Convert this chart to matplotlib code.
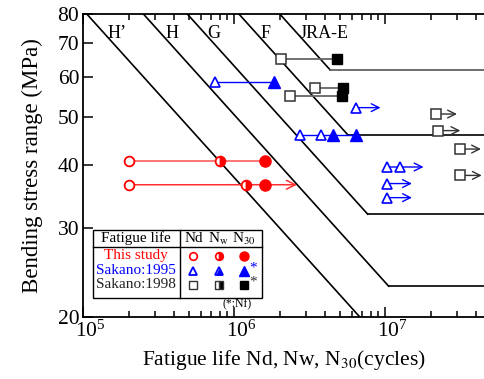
import numpy as np
import matplotlib
matplotlib.use("Agg")
import matplotlib.pyplot as plt
import matplotlib.transforms as mtransforms
from matplotlib.patches import Rectangle

plt.rcParams['font.family'] = ['Liberation Serif', 'DejaVu Serif']
plt.rcParams['mathtext.fontset'] = 'stix'

# JSSC fatigue design classes: stress range at 2e6 cycles and cut-off limit (MPa)
class_names = ["H\u2019", "H", "G", "F", "JRA-E"]
class_ref_stress = [30, 40, 50, 65, 80]
class_cutoff = [16, 23, 32, 46, 62]
class_label_x = [1.67e5, 3.85e5, 7.3e5, 1.6e6, 3.95e6]

# This study (red): Nd, Nw, N30 per stress level
study_stress = [40.8, 36.6]
study_nd = [2.0e5, 2.0e5]
study_nw = [8.0e5, 1.2e6]
study_n30 = [1.59e6, 1.59e6]
study_arrow_end = [None, 2.6e6]

# Sakano:1995 (blue triangles)
s95_line_stress = [58.6, 46.0]
s95_line_start = [7.4e5, 2.74e6]
s95_line_end = [1.82e6, 6.4e6]
s95_open_n = [7.4e5, 2.74e6, 3.75e6]
s95_open_s = [58.6, 46.0, 46.0]
s95_filled_n = [1.82e6, 4.48e6, 6.4e6]
s95_filled_s = [58.6, 46.0, 46.0]
s95_runout_n = [6.4e6, 1.03e7, 1.26e7, 1.03e7, 1.03e7]
s95_runout_s = [52.1, 39.7, 39.7, 36.8, 34.5]
s95_arrow_from = [6.4e6, 1.03e7, 1.03e7, 1.03e7]
s95_arrow_to = [9.3e6, 1.79e7, 1.5e7, 1.5e7]
s95_arrow_s = [52.1, 39.7, 36.8, 34.5]

# Sakano:1998 (black squares)
s98_open_n = [2.04e6, 3.4e6, 2.32e6]
s98_filled_n = [4.75e6, 5.25e6, 5.15e6]
s98_stress = [65.1, 56.9, 54.9]
s98_runout_n = [2.17e7, 2.22e7, 3.1e7, 3.14e7]
s98_runout_s = [50.6, 46.9, 43.1, 38.2]
s98_arrow_to = [2.98e7, 3.14e7, 4.3e7, 4.35e7]

fig = plt.figure(figsize=(4.85, 3.79), dpi=100)
ax = fig.add_axes([83.3 / 485, 1 - 316.7 / 379, 1 - 83.3 / 485, (316.7 - 14) / 379])
ax.set_xscale('log')
ax.set_yscale('log')
xmin, xmax = 1e5, 10 ** 7.66
ax.set_xlim(xmin, xmax)
ax.set_ylim(20, 80)

# S-N design lines
for name, sref, cut, lx in zip(class_names, class_ref_stress, class_cutoff, class_label_x):
    n_top = 2e6 * (sref / 80) ** 3
    n_knee = 2e6 * (sref / cut) ** 3
    s_end = max(cut, 20)
    n_end = 2e6 * (sref / s_end) ** 3
    ax.plot([n_top, n_end], [80, s_end], color='black', lw=1.2, zorder=2)
    if cut >= 20:
        flat_color = '#555555' if name == 'JRA-E' else 'black'
        ax.plot([n_knee, xmax], [cut, cut], color=flat_color, lw=1.2, zorder=2)
    ax.text(lx, 73.3, name, fontsize=13, ha='center', va='center')

# This study
red = '#ff0000'
for s, nd, nw, n30, ae in zip(study_stress, study_nd, study_nw, study_n30, study_arrow_end):
    if ae is None:
        ax.plot([nd, n30], [s, s], color='#ff5050', lw=1.1, zorder=3)
    else:
        ax.annotate('', xy=(ae, s), xytext=(nd, s),
                    arrowprops=dict(arrowstyle='->', color='#ff3030', lw=1.1, mutation_scale=16,
                                    shrinkA=0, shrinkB=0), zorder=3)
    ax.plot(nd, s, 'o', ms=7, mfc='white', mec=red, mew=1.3, zorder=4)
    ax.plot(nw, s, 'o', ms=7, mfc=red, mfcalt='white', fillstyle='right', mec=red, mew=1.3, zorder=4)
    ax.plot(n30, s, 'o', ms=8, mfc=red, mec=red, zorder=4)

# Sakano:1995
blue = '#0000ff'
for s, a, b in zip(s95_line_stress, s95_line_start, s95_line_end):
    ax.plot([a, b], [s, s], color=blue, lw=1.0, zorder=3)
for a, b, s in zip(s95_arrow_from, s95_arrow_to, s95_arrow_s):
    ax.annotate('', xy=(b, s), xytext=(a, s),
                arrowprops=dict(arrowstyle='->', color=blue, lw=1.0, mutation_scale=14,
                                shrinkA=0, shrinkB=0), zorder=3)
ax.plot(s95_open_n, s95_open_s, '^', ls='none', ms=7, mfc='white', mec=blue, mew=1.2, zorder=4)
ax.plot(s95_runout_n, s95_runout_s, '^', ls='none', ms=7, mfc='white', mec=blue, mew=1.2, zorder=4)
ax.plot(s95_filled_n, s95_filled_s, '^', ls='none', ms=8, mfc=blue, mec=blue, zorder=4)

# Sakano:1998
for a, b, s in zip(s98_open_n, s98_filled_n, s98_stress):
    ax.plot([a, b], [s, s], color='#666666', lw=1.3, zorder=3)
for a, b, s in zip(s98_runout_n, s98_arrow_to, s98_runout_s):
    ax.annotate('', xy=(b, s), xytext=(a, s),
                arrowprops=dict(arrowstyle='->', color='#333333', lw=1.0, mutation_scale=14,
                                shrinkA=0, shrinkB=0), zorder=3)
ax.plot(s98_open_n, s98_stress, 's', ls='none', ms=7, mfc='white', mec='#333333', mew=1.1, zorder=4)
ax.plot(s98_runout_n, s98_runout_s, 's', ls='none', ms=7, mfc='white', mec='#333333', mew=1.1, zorder=4)
ax.plot(s98_filled_n, s98_stress, 's', ls='none', ms=7.5, mfc='black', mec='black', zorder=4)

# Axes styling
ax.set_yticks([20, 30, 40, 50, 60, 70, 80])
ax.set_yticklabels(['20', '30', '40', '50', '60', '70', '80'])
ax.yaxis.set_minor_locator(matplotlib.ticker.NullLocator())
ax.tick_params(which='both', direction='in', top=True, right=False, labelsize=15.5, width=1.1)
ax.tick_params(which='major', length=7)
ax.tick_params(which='minor', length=4)
ax.tick_params(axis='y', pad=3)
ax.tick_params(axis='x', pad=3)
ax.spines['right'].set_visible(False)
for sp in ['left', 'bottom', 'top']:
    ax.spines[sp].set_linewidth(1.3)
ax.set_xlabel(r'Fatigue life Nd, Nw, N$_{30}$(cycles)', fontsize=15.5, labelpad=4)
ax.set_ylabel('Bending stress range (MPa)', fontsize=16.5, labelpad=10)

# nudge x tick labels to the right, as in the original
shift = mtransforms.ScaledTranslation(7 / 100, 0, fig.dpi_scale_trans)
for lbl in ax.get_xticklabels():
    lbl.set_transform(lbl.get_transform() + shift)

# Legend table drawn in axes coordinates
tr = ax.transAxes
ax.add_patch(Rectangle((0.023, 0.063), 0.422, 0.223, transform=tr, fill=True,
                       facecolor='white', edgecolor='black', lw=1.0, zorder=5))
ax.plot([0.241, 0.241], [0.063, 0.286], color='black', lw=1.0, transform=tr, zorder=6)
ax.plot([0.023, 0.445], [0.229, 0.229], color='black', lw=1.0, transform=tr, zorder=6)
fs = 11
ax.text(0.132, 0.258, 'Fatigue life', transform=tr, fontsize=fs, ha='center', va='center', zorder=7)
ax.text(0.274, 0.258, 'Nd', transform=tr, fontsize=fs, ha='center', va='center', zorder=7)
ax.text(0.337, 0.258, r'N$_{\mathrm{w}}$', transform=tr, fontsize=fs, ha='center', va='center', zorder=7)
ax.text(0.400, 0.258, r'N$_{30}$', transform=tr, fontsize=fs, ha='center', va='center', zorder=7)
ax.text(0.132, 0.201, 'This study', transform=tr, fontsize=fs, color=red, ha='center', va='center', zorder=7)
ax.text(0.132, 0.152, 'Sakano:1995', transform=tr, fontsize=fs, color=blue, ha='center', va='center', zorder=7)
ax.text(0.132, 0.105, 'Sakano:1998', transform=tr, fontsize=fs, color='#222222', ha='center', va='center', zorder=7)

cols = [0.274, 0.337, 0.400]
ax.plot(cols[0], 0.201, 'o', ms=5.5, mfc='white', mec=red, mew=1.2, transform=tr, zorder=7)
ax.plot(cols[1], 0.201, 'o', ms=5.5, mfc=red, mfcalt='white', fillstyle='right', mec=red, mew=1.2, transform=tr, zorder=7)
ax.plot(cols[2], 0.201, 'o', ms=6.5, mfc=red, mec=red, transform=tr, zorder=7)
ax.plot(cols[0], 0.152, '^', ms=6, mfc='white', mec=blue, mew=1.3, transform=tr, zorder=7)
ax.plot(cols[1], 0.152, '^', ms=6, mfc='white', mec=blue, mew=1.3, transform=tr, zorder=7)
ax.plot(cols[1], 0.148, '^', ms=3.5, mfc=blue, mec=blue, transform=tr, zorder=7)
ax.plot(cols[2], 0.152, '^', ms=6.5, mfc=blue, mec=blue, transform=tr, zorder=7)
ax.text(cols[2] + 0.013, 0.162, '*', transform=tr, fontsize=fs, color=blue, ha='left', va='center', zorder=7)
ax.plot(cols[0], 0.105, 's', ms=5.5, mfc='white', mec='#333333', mew=1.0, transform=tr, zorder=7)
ax.plot(cols[1], 0.105, 's', ms=5.5, mfc='black', mfcalt='white', fillstyle='right', mec='#333333', mew=1.0, transform=tr, zorder=7)
ax.plot(cols[2], 0.105, 's', ms=6, mfc='black', mec='black', transform=tr, zorder=7)
ax.text(cols[2] + 0.013, 0.115, '*', transform=tr, fontsize=fs, color='#333333', ha='left', va='center', zorder=7)
ax.text(0.382, 0.040, '(*:Nf)', transform=tr, fontsize=8.5, ha='center', va='center', zorder=7)

fig.savefig('out.png', dpi=100)
